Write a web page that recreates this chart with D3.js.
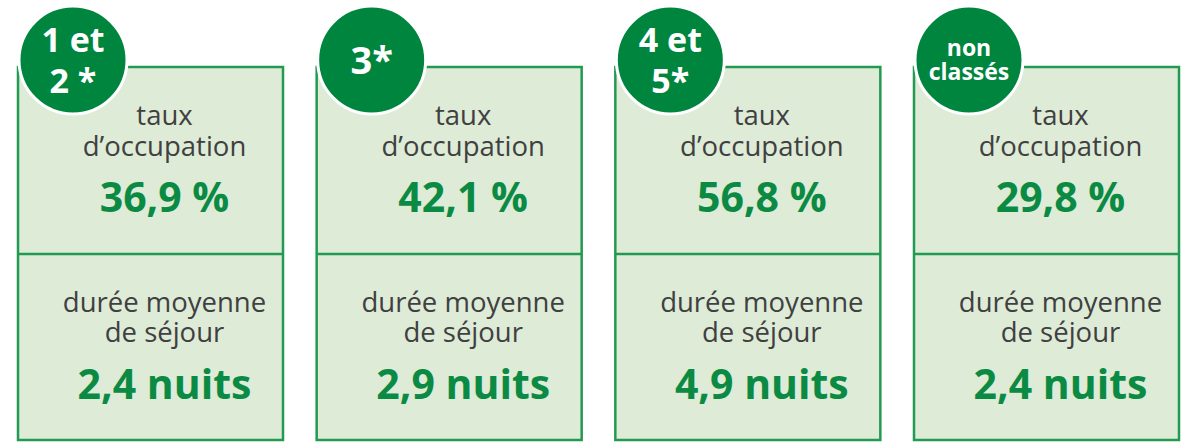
<!DOCTYPE html>
<html>
<head>
<meta charset="utf-8">
<script src="https://cdn.jsdelivr.net/npm/d3@7"></script>
<style>
  body { margin: 0; background: #fff; }
  svg { display: block; font-family: "Open Sans", "Noto Sans", sans-serif; }
</style>
</head>
<body>
<div id="chart"></div>
<script>
// hotel categories and their two indicators
var categories = ["1 et 2 *", "3*", "4 et 5*", "non classés"];
var badgeLines = [["1 et", "2 *"], ["3*"], ["4 et", "5*"], ["non", "classés"]];
var occupation = [36.9, 42.1, 56.8, 29.8];   // taux d'occupation, %
var duree = [2.4, 2.9, 4.9, 2.4];             // durée moyenne de séjour, nuits

var width = 1191, height = 442;
var boxTop = 67, boxBottom = 440, divider = 254;

var fr = d3.formatLocale({decimal: ",", thousands: "\u00a0", grouping: [3], currency: ["", " €"]});
var fmt = fr.format(".1f");

var svg = d3.select("#chart").append("svg")
    .attr("width", width)
    .attr("height", height);

var x = d3.scaleBand()
    .domain(categories)
    .range([18, 1179])
    .paddingInner(0.1127)
    .paddingOuter(0);

var bw = x.bandwidth();

var panel = svg.selectAll("g.panel")
    .data(categories)
    .enter()
    .append("g")
    .attr("class", "panel")
    .attr("transform", function(d) { return "translate(" + x(d) + ",0)"; });

panel.append("rect")
    .attr("x", 0)
    .attr("y", boxTop)
    .attr("width", bw)
    .attr("height", boxBottom - boxTop)
    .attr("fill", "#ddebd7")
    .attr("stroke", "#239a52")
    .attr("stroke-width", 2.5);

panel.append("line")
    .attr("x1", 0).attr("x2", bw)
    .attr("y1", divider).attr("y2", divider)
    .attr("stroke", "#239a52")
    .attr("stroke-width", 2.5);

var cx = bw / 2 + 14;
var labelColor = "#404040", valueColor = "#0b8a43";

function addLines(sel, lines, y0, dy) {
    lines.forEach(function(t, i) {
        sel.append("text")
            .attr("x", cx)
            .attr("y", y0 + i * dy)
            .attr("text-anchor", "middle")
            .attr("fill", labelColor)
            .attr("font-size", 27.5)
            .text(t);
    });
}

panel.each(function(d, i) {
    var g = d3.select(this);
    addLines(g, ["taux", "d\u2019occupation"], 125, 31);
    g.append("text")
        .attr("x", cx).attr("y", 212)
        .attr("text-anchor", "middle")
        .attr("fill", valueColor)
        .attr("font-size", 41)
        .attr("font-weight", 700)
        .text(fmt(occupation[i]) + " %");

    addLines(g, ["dur\u00e9e moyenne", "de s\u00e9jour"], 312, 30);
    g.append("text")
        .attr("x", cx).attr("y", 399)
        .attr("text-anchor", "middle")
        .attr("fill", valueColor)
        .attr("font-size", 41)
        .attr("font-weight", 700)
        .text(fmt(duree[i]) + " nuits");
});

// badges
var badge = panel.append("g")
    .attr("transform", "translate(55,60)");

badge.append("circle")
    .attr("r", 54)
    .attr("fill", "#00853f")
    .attr("stroke", "#fff")
    .attr("stroke-width", 3);

badge.each(function(d, i) {
    var lines = badgeLines[i];
    var longest = d3.max(lines, function(l) { return l.length; });
    var size = lines.length === 1 ? 38 : (longest > 4 ? 23 : 34);
    var lh = size * (longest > 4 ? 1.05 : 1.2);
    var y0 = -(lines.length - 1) * lh / 2 + size * 0.36;
    var g = d3.select(this);
    lines.forEach(function(t, j) {
        g.append("text")
            .attr("x", 0)
            .attr("y", y0 + j * lh)
            .attr("text-anchor", "middle")
            .attr("fill", "#fff")
            .attr("font-size", size)
            .attr("font-weight", 700)
            .text(t);
    });
});
</script>
</body>
</html>
